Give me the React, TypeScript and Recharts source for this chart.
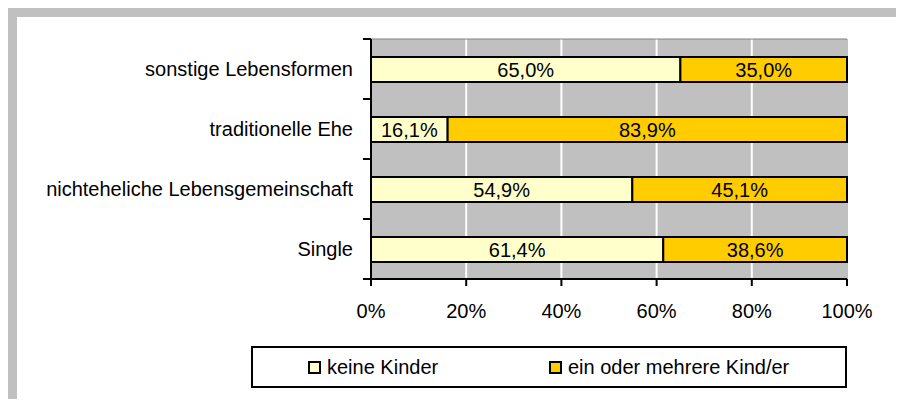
import { BarChart, Bar, XAxis, YAxis, CartesianGrid, LabelList } from 'recharts';

// Werte aus der Vorlage (Anteile in %)
const CATEGORIES = [
  'sonstige Lebensformen',
  'traditionelle Ehe',
  'nichteheliche Lebensgemeinschaft',
  'Single',
];
const KEINE_KINDER = [65.0, 16.1, 54.9, 61.4];
const MIT_KINDERN = [35.0, 83.9, 45.1, 38.6];
const X_TICKS = [0, 20, 40, 60, 80, 100];

const SERIES = [
  { key: 'keine', label: 'keine Kinder', color: '#FFFFCC' },
  { key: 'mit', label: 'ein oder mehrere Kind/er', color: '#FFCC00' },
];

const FONT = '"Liberation Sans", Arial, sans-serif';

const data = CATEGORIES.map((name, i) => ({
  name,
  keine: KEINE_KINDER[i],
  mit: MIT_KINDERN[i],
}));

const fmtPct = (v: any) => `${Number(v).toFixed(1).replace('.', ',')}%`;

// Kategorie-Beschriftung + Teilstriche an den Bandgrenzen
function CategoryTick(props: any) {
  const { x, y, payload } = props;
  const half = payload?.offset || 30;
  return (
    <g>
      <line x1={x - 8} x2={x} y1={y - half} y2={y - half} stroke="#000" strokeWidth={2} />
      <line x1={x - 8} x2={x} y1={y + half} y2={y + half} stroke="#000" strokeWidth={2} />
      <text x={x - 18} y={y} dy="0.35em" textAnchor="end" fontSize={20} fill="#000" fontFamily={FONT}>
        {payload.value}
      </text>
    </g>
  );
}

export default function App() {
  return (
    <div
      style={{
        position: 'relative',
        width: 904,
        height: 407,
        margin: -8,
        overflow: 'hidden',
        background: '#fff',
        fontFamily: FONT,
      }}
    >
      {/* grauer Rahmen */}
      <div
        style={{
          position: 'absolute',
          left: 7,
          top: 7,
          width: 1000,
          height: 407,
          boxSizing: 'border-box',
          border: '10px solid #C0C0C0',
        }}
      />

      <div style={{ position: 'absolute', left: 0, top: 0 }}>
        <BarChart
          layout="vertical"
          width={904}
          height={407}
          data={data}
          margin={{ top: 39, right: 57, bottom: 98, left: 0 }}
        >
          <CartesianGrid horizontal={false} stroke="#fff" strokeWidth={2} fill="#C0C0C0" />
          <CartesianGrid
            stroke="#808080"
            strokeWidth={1}
            horizontalCoordinatesGenerator={({ offset }: any) => [offset.top]}
            verticalCoordinatesGenerator={({ offset }: any) => [offset.left + offset.width]}
          />
          <XAxis
            type="number"
            domain={[0, 100]}
            ticks={X_TICKS}
            tickFormatter={(v) => `${v}%`}
            height={30}
            tick={{ fontSize: 20, fill: '#000', fontFamily: FONT }}
            tickSize={7}
            tickMargin={18}
            axisLine={{ stroke: '#000', strokeWidth: 2 }}
            tickLine={{ stroke: '#000', strokeWidth: 2 }}
            interval={0}
          />
          <YAxis
            type="category"
            dataKey="name"
            width={371}
            tick={<CategoryTick />}
            tickLine={false}
            tickSize={0}
            tickMargin={0}
            axisLine={{ stroke: '#000', strokeWidth: 2 }}
            interval={0}
          />
          {SERIES.map((s) => (
            <Bar
              key={s.key}
              dataKey={s.key}
              stackId="a"
              fill={s.color}
              stroke="#000"
              strokeWidth={2}
              barSize={25}
              isAnimationActive={false}
            >
              <LabelList
                dataKey={s.key}
                position="center"
                formatter={fmtPct}
                fill="#000"
                fontSize={20}
                fontFamily={FONT}
              />
            </Bar>
          ))}
        </BarChart>
      </div>

      {/* Legende */}
      <div
        style={{
          position: 'absolute',
          left: 251,
          top: 346,
          width: 596,
          height: 42,
          boxSizing: 'border-box',
          border: '2px solid #000',
          background: '#fff',
        }}
      >
        {SERIES.map((s, i) => (
          <div
            key={s.key}
            style={{
              position: 'absolute',
              left: i === 0 ? 55 : 296,
              top: 0,
              height: 38,
              display: 'flex',
              alignItems: 'center',
              fontSize: 20,
              color: '#000',
              whiteSpace: 'nowrap',
            }}
          >
            <span
              style={{
                display: 'inline-block',
                width: 13,
                height: 13,
                boxSizing: 'border-box',
                border: '2px solid #000',
                background: s.color,
                marginRight: 6,
              }}
            />
            {s.label}
          </div>
        ))}
      </div>
    </div>
  );
}
